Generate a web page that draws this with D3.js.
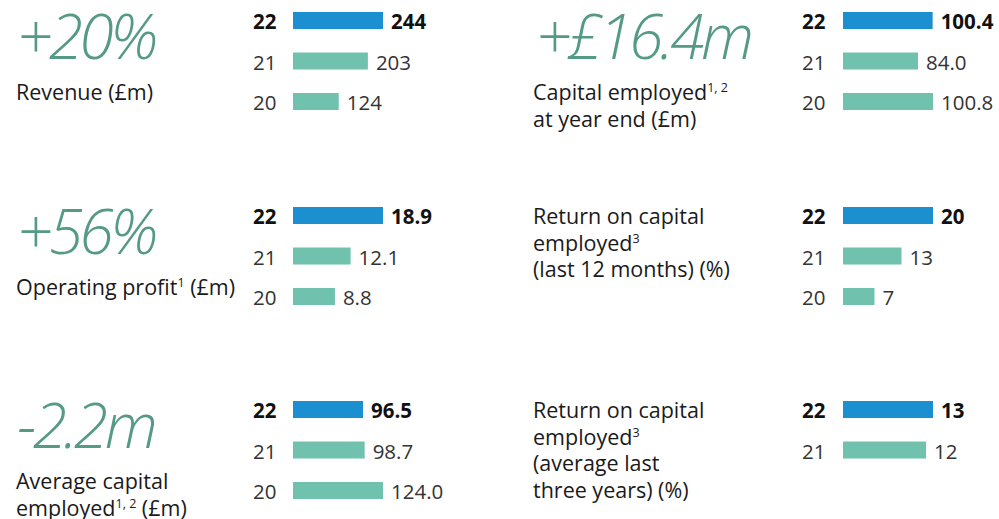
<!DOCTYPE html>
<html>
<head>
<meta charset="utf-8">
<script src="https://cdn.jsdelivr.net/npm/d3@7"></script>
<style>
  html, body { margin: 0; padding: 0; background: #fff; }
  svg { display: block; }
  text { font-family: "Open Sans", "Noto Sans", sans-serif; }
</style>
</head>
<body>
<svg id="kpi" width="999" height="519"></svg>
<script>
// Financial year labels
const years = ["22", "21", "20"];
const yearsTwo = ["22", "21"];

// KPI values per year (latest first)
const revenue = [244, 203, 124];
const capitalEmployed = [100.4, 84.0, 100.8];
const operatingProfit = [18.9, 12.1, 8.8];
const roceLast12 = [20, 13, 7];
const avgCapitalEmployed = [96.5, 98.7, 124.0];
const roceAvg3 = [13, 12];

// Headline changes
const headlines = ["+20%", "+£16.4m", "+56%", "", "-2.2m", ""];

// Caption lines: each line is a list of [text, superscript] pieces
const captions = [
  [[["Revenue (£m)", ""]]],
  [[["Capital employed", "1, 2"]], [["at year end (£m)", ""]]],
  [[["Operating profit", "1"], [" (£m)", ""]]],
  [[["Return on capital", ""]], [["employed", "3"]], [["(last 12 months) (%)", ""]]],
  [[["Average capital", ""]], [["employed", "1, 2"], [" (£m)", ""]]],
  [[["Return on capital", ""]], [["employed", "3"]], [["(average last", ""]], [["three years) (%)", ""]]]
];

const panelYears = [years, years, years, years, years, yearsTwo];
const panelValues = [revenue, capitalEmployed, operatingProfit, roceLast12, avgCapitalEmployed, roceAvg3];
const panelFormats = [",.0f", ".1f", ".1f", ".0f", ".1f", ".0f"];

const blue = "#1b8fd0";
const teal = "#70c1ae";
const green = "#559a86";

const svg = d3.select("#kpi");

// Column geometry
const cols = [
  { big: 17, caption: 16, year: 253, bar: 293 },
  { big: 536, caption: 533, year: 802, bar: 843 }
];
const rowTops = [0, 195, 389];
const step = 40.5;
const barH = 17;
const barMax = 90;

panelValues.forEach((vals, i) => {
  const col = cols[i % 2];
  const top = rowTops[Math.floor(i / 2)];
  const g = svg.append("g");
  const yrs = panelYears[i];

  // headline
  if (headlines[i]) {
    g.append("text")
      .attr("x", col.big)
      .attr("y", top + 59)
      .attr("font-size", 62)
      .attr("font-style", "italic")
      .attr("font-weight", 300)
      .attr("fill", green)
      .attr("letter-spacing", -3.5)
      .text(headlines[i]);
  }

  // caption
  const capTop = headlines[i] ? top + 100 : top + 29;
  captions[i].forEach((line, li) => {
    const t = g.append("text")
      .attr("x", col.caption)
      .attr("y", capTop + li * 26.5)
      .attr("font-size", 21.5)
      .attr("fill", "#1a1a1a");
    let raised = false;
    line.forEach(([txt, sup]) => {
      t.append("tspan").attr("dy", raised ? 8 : null).text(txt);
      raised = false;
      if (sup) {
        t.append("tspan")
          .attr("font-size", 12.5)
          .attr("dy", -8)
          .text(sup);
        raised = true;
      }
    });
  });

  // bars
  const y = d3.scaleBand()
    .domain(yrs)
    .range([top + 12, top + 12 + step * (yrs.length - 0.58)])
    .paddingInner(0.58)
    .paddingOuter(0);
  const x = d3.scaleLinear()
    .domain([0, d3.max(vals)])
    .range([0, barMax]);
  const fmt = d3.format(panelFormats[i]);

  const rows = yrs.map((yr, k) => ({ yr, v: vals[k], latest: k === 0 }));

  g.selectAll("rect.bar")
    .data(rows)
    .join("rect")
    .attr("class", "bar")
    .attr("x", col.bar)
    .attr("y", d => y(d.yr))
    .attr("width", d => x(d.v))
    .attr("height", y.bandwidth())
    .attr("fill", d => d.latest ? blue : teal);

  g.selectAll("text.yr")
    .data(rows)
    .join("text")
    .attr("class", "yr")
    .attr("x", col.year)
    .attr("y", d => y(d.yr) + y.bandwidth())
    .attr("font-size", 20.5)
    .attr("font-weight", d => d.latest ? 700 : 400)
    .attr("fill", d => d.latest ? "#111" : "#333")
    .text(d => d.yr);

  g.selectAll("text.val")
    .data(rows)
    .join("text")
    .attr("class", "val")
    .attr("x", d => col.bar + x(d.v) + 8)
    .attr("y", d => y(d.yr) + y.bandwidth())
    .attr("font-size", 20.5)
    .attr("font-weight", d => d.latest ? 700 : 400)
    .attr("fill", d => d.latest ? "#111" : "#333")
    .text(d => fmt(d.v));
});
</script>
</body>
</html>
